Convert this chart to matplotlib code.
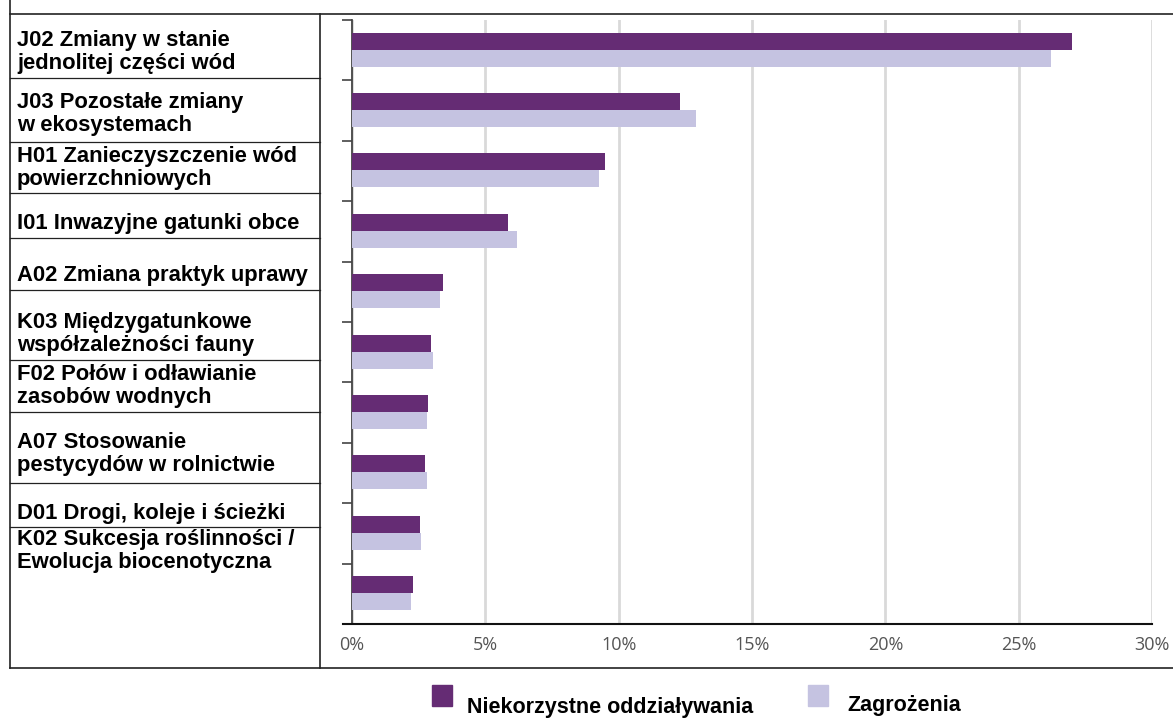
import matplotlib.pyplot as plt
from matplotlib.lines import Line2D
from matplotlib.patches import Rectangle
import numpy as np

plt.rcParams['font.family'] = ['Liberation Sans', 'DejaVu Sans']

# data
labels = ['J02 Zmiany w stanie\njednolitej części wód',
          'J03 Pozostałe zmiany\nw ekosystemach',
          'H01 Zanieczyszczenie wód\npowierzchniowych',
          'I01 Inwazyjne gatunki obce',
          'A02 Zmiana praktyk uprawy',
          'K03 Międzygatunkowe\nwspółzależności fauny',
          'F02 Połów i odławianie\nzasobów wodnych',
          'A07 Stosowanie\npestycydów w rolnictwie',
          'D01 Drogi, koleje i ścieżki',
          'K02 Sukcesja roślinności /\nEwolucja biocenotyczna']
niekorzystne = [27.0, 12.3, 9.5, 5.85, 3.4, 2.95, 2.85, 2.75, 2.55, 2.3]
zagrozenia = [26.2, 12.9, 9.25, 6.2, 3.3, 3.05, 2.8, 2.8, 2.6, 2.2]
series_names = ['Niekorzystne oddziaływania', 'Zagrożenia']
xticks = [0, 5, 10, 15, 20, 25, 30]

dark = '#652c74'
light = '#c5c3e1'

W, H = 1173, 718
fig = plt.figure(figsize=(W / 100, H / 100), dpi=100)


def fx(px):
    return px / W


def fy(py):
    return 1 - py / H


ax = fig.add_axes([fx(352), fy(624), fx(1152) - fx(352), fy(20) - fy(624)])
y = np.arange(len(labels))
ax.barh(y - 0.15, niekorzystne, height=0.28, color=dark, zorder=3)
ax.barh(y + 0.13, zagrozenia, height=0.28, color=light, zorder=3)
ax.set_xlim(0, 30)
ax.set_ylim(len(labels) - 0.5, -0.5)
ax.set_xticks(xticks)
ax.set_xticklabels([f'{t}%' for t in xticks], family=['Open Sans', 'DejaVu Sans'],
                   fontsize=13, color='#555555')
ax.tick_params(axis='x', length=0, pad=9)
ax.set_yticks(np.arange(len(labels) + 1) - 0.5)
ax.set_yticklabels([])
ax.tick_params(axis='y', length=7, width=1.2, color='#444444', direction='out')
ax.grid(axis='x', color='#d9d9d9', linewidth=2, zorder=0)
for s in ['top', 'right']:
    ax.spines[s].set_visible(False)
ax.spines['left'].set_color('#444444')
ax.spines['left'].set_linewidth(1.3)
ax.spines['bottom'].set_color('#111111')
ax.spines['bottom'].set_linewidth(1.5)
ax.spines['bottom'].set_bounds(-0.35, 30)
ax.set_xlim(0, 30)


# frame lines (table on the left)
def hline(py, x0, x1, lw=1.0):
    fig.add_artist(Line2D([fx(x0), fx(x1)], [fy(py), fy(py)], color='#222222', lw=lw))


def vline(px, y0, y1, lw=1.0):
    fig.add_artist(Line2D([fx(px), fx(px)], [fy(y0), fy(y1)], color='#222222', lw=lw))


hline(14, 10, W, 1.2)
hline(668, 10, W, 1.2)
vline(10, 0, 668, 1.2)
vline(320, 14, 668, 1.2)
for py in [78, 142, 193, 238, 290, 360, 412, 483, 527]:
    hline(py, 10, 320, 0.9)

# row labels
label_y = [52, 114, 168, 224, 276, 334, 386, 454, 513, 551]
for txt, py in zip(labels, label_y):
    fig.text(fx(17), fy(py), txt, fontsize=15.8, fontweight='bold',
             va='center', ha='left', linespacing=1.08)

# legend
fig.add_artist(Rectangle((fx(432), fy(706)), fx(20), fy(685) - fy(706),
                         color=dark, transform=fig.transFigure))
fig.add_artist(Rectangle((fx(808), fy(706)), fx(20), fy(685) - fy(706),
                         color=light, transform=fig.transFigure))
fig.text(fx(467), fy(708), series_names[0], fontsize=15.5, fontweight='bold',
         va='center', ha='left')
fig.text(fx(847), fy(705), series_names[1], fontsize=15.5, fontweight='bold',
         va='center', ha='left')

fig.savefig('out.png', dpi=100)
